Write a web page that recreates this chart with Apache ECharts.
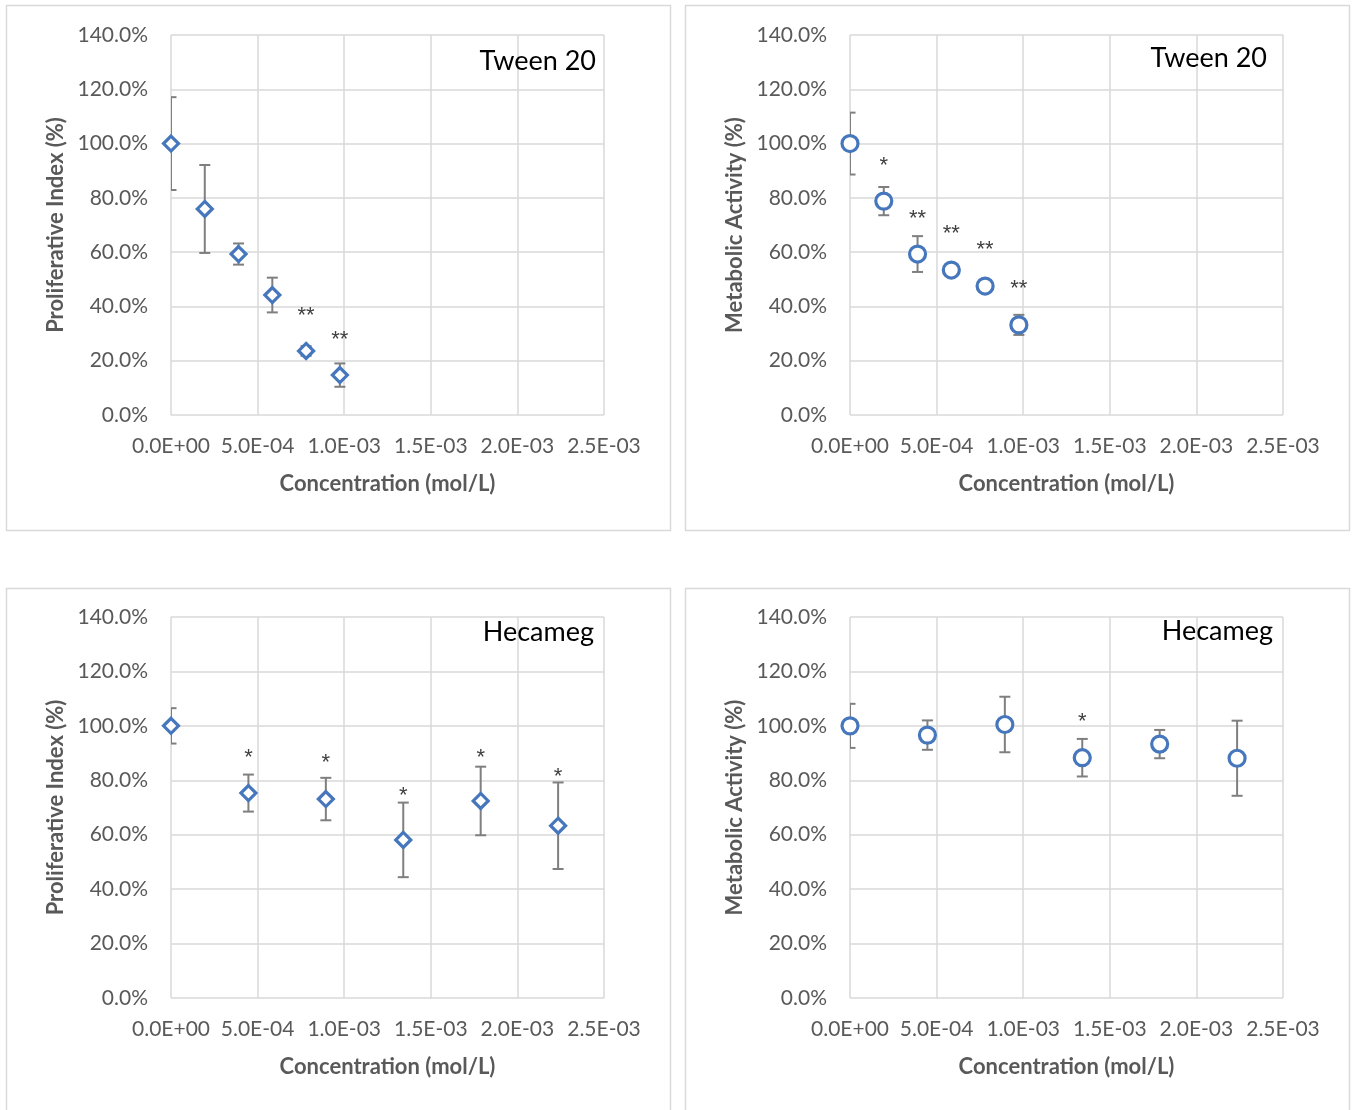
<!DOCTYPE html>
<html>
<head>
<meta charset="utf-8">
<script src="https://cdn.jsdelivr.net/npm/echarts@6/dist/echarts.min.js"></script>
<style>
html,body{margin:0;padding:0;background:#fff;}
#chart{width:1355px;height:1110px;}
</style>
</head>
<body>
<div id="chart"></div>
<script>
// ---- data ----
const xTicksNote = ['0.0E+00','5.0E-04','1.0E-03','1.5E-03','2.0E-03','2.5E-03'];
const yTicksNote = ['0.0%','20.0%','40.0%','60.0%','80.0%','100.0%','120.0%','140.0%'];

const tweenConc = [0, 1.95e-4, 3.9e-4, 5.85e-4, 7.8e-4, 9.75e-4];
const tweenProlif = [100, 75.9, 59.3, 44.2, 23.6, 14.7];
const tweenProlifErr = [17.1, 16.2, 3.9, 6.4, 1.8, 4.3];
const tweenProlifSig = ['', '', '', '', '**', '**'];
const tweenProlifSigY = [0, 0, 0, 0, 37.6, 28.7];
const tweenMetab = [100, 78.8, 59.3, 53.4, 47.5, 33.2];
const tweenMetabErr = [11.4, 5.2, 6.6, 1.5, 1.5, 3.7];
const tweenMetabSig = ['', '*', '**', '**', '**', '**'];
const tweenMetabSigY = [0, 92.7, 73.1, 67.8, 61.9, 47.2];

const hecConc = [0, 4.47e-4, 8.94e-4, 1.341e-3, 1.788e-3, 2.235e-3];
const hecProlif = [100, 75.3, 73.1, 58.1, 72.4, 63.3];
const hecProlifErr = [6.5, 6.8, 7.8, 13.7, 12.6, 15.9];
const hecProlifSig = ['', '*', '*', '*', '*', '*'];
const hecProlifSigY = [0, 89.3, 87.2, 75.0, 89.3, 82.3];
const hecMetab = [100, 96.6, 100.5, 88.3, 93.3, 88.1];
const hecMetabErr = [8.1, 5.4, 10.2, 6.9, 5.2, 13.8];
const hecMetabSig = ['', '', '', '*', '', ''];
const hecMetabSigY = [0, 0, 0, 102.2, 0, 0];

const panels = [
  {x: tweenConc, y: tweenProlif, e: tweenProlifErr, s: tweenProlifSig, sy: tweenProlifSigY, sym: 'diamond', yName: 'Proliferative Index (%)', title: 'Tween 20'},
  {x: tweenConc, y: tweenMetab, e: tweenMetabErr, s: tweenMetabSig, sy: tweenMetabSigY, sym: 'circle', yName: 'Metabolic Activity (%)', title: 'Tween 20'},
  {x: hecConc, y: hecProlif, e: hecProlifErr, s: hecProlifSig, sy: hecProlifSigY, sym: 'diamond', yName: 'Proliferative Index (%)', title: 'Hecameg'},
  {x: hecConc, y: hecMetab, e: hecMetabErr, s: hecMetabSig, sy: hecMetabSigY, sym: 'circle', yName: 'Metabolic Activity (%)', title: 'Hecameg'}
];

// ---- layout ----
const FONT = 'Lato, "Liberation Sans", sans-serif';
const STARFONT = '"Liberation Sans", "DejaVu Sans", sans-serif';
const BLUE = '#4677bd';
const GRIDC = '#d9d9d9';
const TXT = '#595959';
const gridsPos = [
  {left: 171, top: 35, width: 433, height: 380},
  {left: 850, top: 35, width: 433, height: 380},
  {left: 171, top: 617, width: 433, height: 381},
  {left: 850, top: 617, width: 433, height: 381}
];
const frames = [
  {x: 6.5, y: 5.5, w: 664, h: 525},
  {x: 685.5, y: 5.5, w: 664, h: 525},
  {x: 6.5, y: 588.5, w: 664, h: 540},
  {x: 685.5, y: 588.5, w: 664, h: 540}
];
const titlePos = [
  {right: 596, y: 61},
  {right: 1267, y: 58},
  {right: 594, y: 632},
  {right: 1273, y: 631}
];

function fmtX(v) {
  if (Math.abs(v) < 1e-12) return '0.0E+00';
  const s = v.toExponential(1).split('e');
  const ex = parseInt(s[1], 10);
  const sign = ex < 0 ? '-' : '+';
  const a = Math.abs(ex);
  return s[0] + 'E' + sign + (a < 10 ? '0' + a : '' + a);
}

const grid = [], xAxis = [], yAxis = [], series = [], graphic = [];
panels.forEach((p, i) => {
  grid.push(Object.assign({containLabel: false}, gridsPos[i]));
  xAxis.push({
    type: 'value', gridIndex: i, min: 0, max: 0.0025, interval: 0.0005,
    name: 'Concentration (mol/L)', nameLocation: 'middle', nameGap: 58,
    nameTextStyle: {fontFamily: FONT, fontSize: 22, fontWeight: 'bold', color: TXT},
    axisLine: {show: false}, axisTick: {show: false},
    axisLabel: {formatter: fmtX, fontFamily: FONT, fontSize: 21, color: TXT, margin: 21},
    splitLine: {show: true, lineStyle: {color: GRIDC, width: 1.5}}
  });
  yAxis.push({
    type: 'value', gridIndex: i, min: 0, max: 140, interval: 20,
    name: p.yName, nameLocation: 'middle', nameGap: 104, nameRotate: 90,
    nameTextStyle: {fontFamily: FONT, fontSize: 22, fontWeight: 'bold', color: TXT},
    axisLine: {show: false}, axisTick: {show: false},
    axisLabel: {formatter: v => v.toFixed(1) + '%', fontFamily: FONT, fontSize: 21, color: TXT, margin: 23},
    splitLine: {show: true, lineStyle: {color: GRIDC, width: 1.5}}
  });
  const errData = p.x.map((xv, k) => [xv, p.y[k] - p.e[k], p.y[k] + p.e[k]]);
  series.push({
    type: 'custom', xAxisIndex: i, yAxisIndex: i, clip: true, silent: true,
    data: errData,
    renderItem: function (params, api) {
      const x = api.value(0);
      const lo = api.coord([x, api.value(1)]);
      const hi = api.coord([x, api.value(2)]);
      const cw = 5.5;
      const st = {stroke: '#7f7f7f', lineWidth: 2};
      return {
        type: 'group',
        children: [
          {type: 'line', shape: {x1: lo[0], y1: lo[1], x2: hi[0], y2: hi[1]}, style: st},
          {type: 'line', shape: {x1: lo[0] - cw, y1: lo[1], x2: lo[0] + cw, y2: lo[1]}, style: st},
          {type: 'line', shape: {x1: hi[0] - cw, y1: hi[1], x2: hi[0] + cw, y2: hi[1]}, style: st}
        ]
      };
    },
    z: 3
  });
  series.push({
    type: 'scatter', xAxisIndex: i, yAxisIndex: i, clip: false, silent: true,
    symbol: p.sym, symbolSize: p.sym === 'diamond' ? 15 : 16,
    itemStyle: {color: '#fff', borderColor: BLUE, borderWidth: 3.2, opacity: 1},
    data: p.x.map((xv, k) => [xv, p.y[k]]),
    z: 5
  });
  const sigData = [];
  p.s.forEach((t, k) => { if (t) sigData.push([p.x[k], p.sy[k], t]); });
  series.push({
    type: 'custom', xAxisIndex: i, yAxisIndex: i, clip: false, silent: true,
    data: sigData,
    encode: {x: 0, y: 1},
    renderItem: function (params, api) {
      const c = api.coord([api.value(0), api.value(1)]);
      const t = sigData[params.dataIndex][2];
      return {
        type: 'text', x: c[0], y: c[1] + 2.5,
        style: {text: t, fontFamily: STARFONT, fontSize: 22, fill: '#404040', textAlign: 'center', textVerticalAlign: 'middle'}
      };
    },
    z: 6
  });
  graphic.push({
    type: 'rect', shape: {x: frames[i].x, y: frames[i].y, width: frames[i].w, height: frames[i].h},
    style: {fill: 'none', stroke: GRIDC, lineWidth: 1.5}, silent: true, z: -10
  });
  graphic.push({
    type: 'text', x: titlePos[i].right, y: titlePos[i].y,
    style: {text: p.title, fontFamily: FONT, fontSize: 27, fill: '#000', textAlign: 'right', textVerticalAlign: 'middle'},
    silent: true, z: 10
  });
});

const chart = echarts.init(document.getElementById('chart'), null, {renderer: 'canvas'});
chart.setOption({
  animation: false,
  backgroundColor: '#fff',
  grid, xAxis, yAxis, series, graphic
});
</script>
</body>
</html>
